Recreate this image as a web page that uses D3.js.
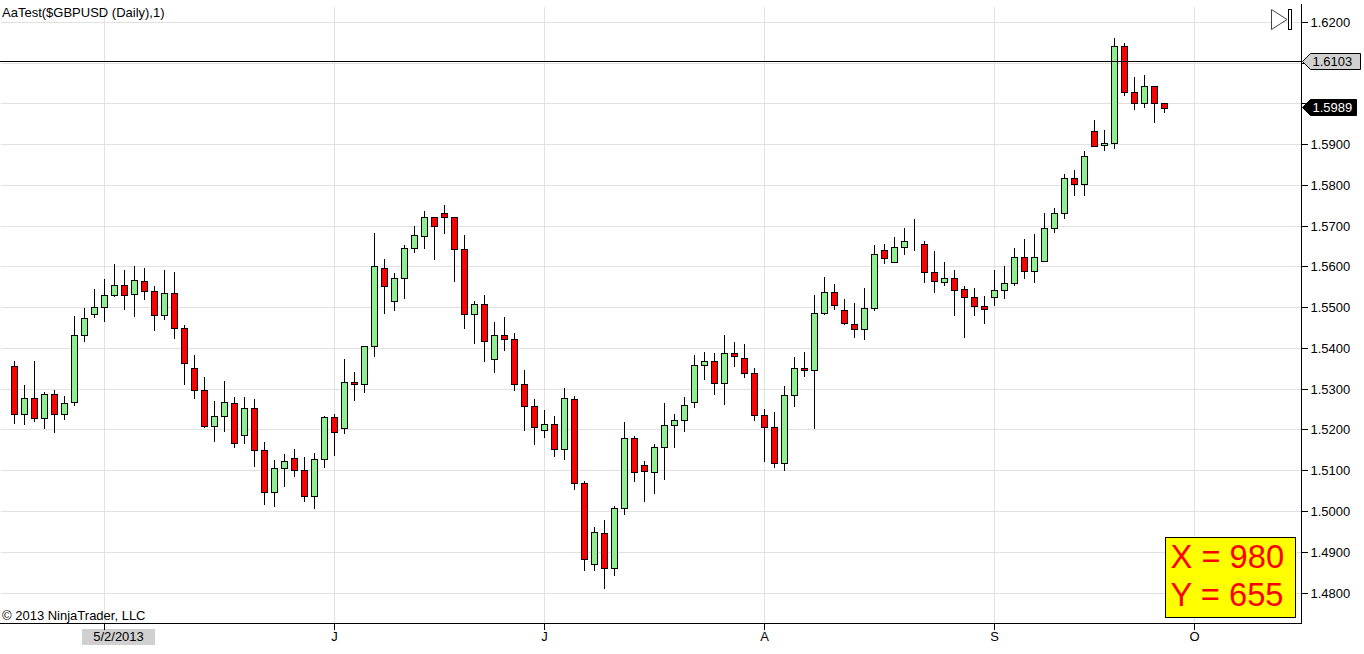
<!DOCTYPE html>
<html><head><meta charset="utf-8">
<script src="https://cdn.jsdelivr.net/npm/d3@7/dist/d3.min.js"></script>
<style>html,body{margin:0;padding:0;background:#fff}svg{display:block}text{font-family:"Liberation Sans",Arial,sans-serif}</style>
</head><body><div id="chart"></div>
<script>
const opens=[1.5356,1.5238,1.5277,1.5228,1.5287,1.5238,1.5267,1.5432,1.5484,1.5501,1.5530,1.5555,1.5533,1.5565,1.5540,1.5481,1.5535,1.5449,1.5351,1.5297,1.5208,1.5233,1.5265,1.5186,1.5252,1.5149,1.5046,1.5105,1.5130,
1.5100,1.5036,1.5127,1.5230,1.5203,1.5316,1.5311,1.5405,1.5597,1.5516,1.5572,1.5646,1.5675,1.5720,1.5730,1.5720,1.5643,1.5484,1.5508,1.5373,1.5432,1.5422,1.5311,1.5257,1.5198,1.5213,1.5152,1.5275,
1.5068,1.4869,1.4945,1.4861,1.5007,1.5179,1.5112,1.5095,1.5157,1.5211,1.5223,1.5267,1.5358,1.5368,1.5314,1.5388,1.5375,1.5339,1.5235,1.5206,1.5117,1.5284,1.5351,
1.5346,1.5486,1.5538,1.5493,1.5459,1.5447,1.5498,1.5639,1.5611,1.5648,1.5661,1.5656,1.5587,1.5562,1.5572,1.5545,1.5525,1.5503,1.5525,1.5543,1.5560,1.5624,1.5589,1.5614,1.5695,1.5730,1.5816,1.5801,1.5931,1.5897,1.5902,1.6140,1.6029,1.6000,1.6042,1.6002];
const closes=[1.5238,1.5277,1.5228,1.5287,1.5238,1.5265,1.5432,1.5474,1.5501,1.5530,1.5555,1.5530,1.5567,1.5540,1.5481,1.5535,1.5449,1.5363,1.5297,1.5208,1.5233,1.5267,1.5166,1.5252,1.5149,1.5046,1.5105,1.5122,1.5100,
1.5036,1.5127,1.5230,1.5193,1.5316,1.5311,1.5405,1.5602,1.5552,1.5572,1.5646,1.5678,1.5720,1.5698,1.5722,1.5643,1.5484,1.5508,1.5417,1.5432,1.5422,1.5311,1.5257,1.5206,1.5213,1.5152,1.5277,1.5068,
1.4881,1.4948,1.4861,1.5007,1.5179,1.5095,1.5098,1.5157,1.5211,1.5223,1.5260,1.5358,1.5368,1.5314,1.5388,1.5380,1.5339,1.5235,1.5206,1.5117,1.5284,1.5351,1.5346,
1.5486,1.5538,1.5506,1.5461,1.5447,1.5498,1.5631,1.5621,1.5648,1.5663,1.5661,1.5587,1.5565,1.5572,1.5543,1.5525,1.5503,1.5496,1.5543,1.5560,1.5624,1.5589,1.5624,1.5695,1.5732,1.5816,1.5801,1.5870,1.5895,1.5902,1.6140,1.6029,1.6002,1.6042,1.6002,1.5989];
const highs=[1.5370,1.5311,1.5368,1.5292,1.5297,1.5284,1.5479,1.5498,1.5545,1.5570,1.5607,1.5593,1.5602,1.5598,1.5552,1.5593,1.5588,1.5457,1.5383,1.5329,1.5272,1.5321,1.5282,1.5280,1.5275,1.5171,1.5127,1.5142,1.5154,
1.5133,1.5144,1.5235,1.5238,1.5375,1.5341,1.5407,1.5683,1.5619,1.5584,1.5653,1.5700,1.5737,1.5722,1.5752,1.5722,1.5678,1.5516,1.5530,1.5464,1.5476,1.5439,1.5346,1.5277,1.5248,1.5235,1.5302,1.5284,
1.5075,1.4962,1.4980,1.5014,1.5220,1.5186,1.5125,1.5166,1.5267,1.5240,1.5280,1.5383,1.5390,1.5388,1.5432,1.5415,1.5412,1.5353,1.5252,1.5243,1.5307,1.5378,1.5390,
1.5530,1.5575,1.5557,1.5520,1.5511,1.5548,1.5653,1.5656,1.5673,1.5695,1.5717,1.5663,1.5639,1.5611,1.5592,1.5552,1.5548,1.5528,1.5592,1.5602,1.5646,1.5668,1.5680,1.5732,1.5744,1.5828,1.5838,1.5885,1.5961,1.5936,1.6162,1.6150,1.6066,1.6071,1.6042,1.6002];
const lows=[1.5215,1.5212,1.5220,1.5202,1.5193,1.5225,1.5259,1.5416,1.5475,1.5466,1.5525,1.5494,1.5478,1.5519,1.5443,1.5470,1.5424,1.5311,1.5276,1.5205,1.5170,1.5195,1.5156,1.5166,1.5109,1.5016,1.5011,1.5060,1.5084,
1.5024,1.5007,1.5107,1.5136,1.5190,1.5271,1.5291,1.5380,1.5485,1.5493,1.5520,1.5633,1.5645,1.5616,1.5680,1.5564,1.5448,1.5411,1.5367,1.5340,1.5394,1.5296,1.5198,1.5163,1.5180,1.5134,1.5126,1.5052,
1.4853,1.4853,1.4809,1.4841,1.4991,1.5072,1.5023,1.5043,1.5077,1.5156,1.5195,1.5254,1.5323,1.5286,1.5261,1.5355,1.5328,1.5222,1.5121,1.5107,1.5099,1.5257,1.5330,
1.5202,1.5483,1.5495,1.5458,1.5426,1.5421,1.5493,1.5606,1.5609,1.5628,1.5638,1.5561,1.5537,1.5554,1.5480,1.5426,1.5480,1.5461,1.5505,1.5520,1.5552,1.5571,1.5561,1.5614,1.5684,1.5717,1.5774,1.5774,1.5895,1.5884,1.5889,1.6020,1.5985,1.5990,1.5953,1.5977];
const priceTicks=[1.62,1.61,1.60,1.59,1.58,1.57,1.56,1.55,1.54,1.53,1.52,1.51,1.50,1.49,1.48];
const hiddenPriceLabels=[1.61,1.60];
const dateTickIndex=[9,32,53,75,98,118];
const dateTickLabels=["5/2/2013","J","J","A","S","O"];
const titleText="AaTest($GBPUSD (Daily),1)";
const copyrightText="\u00A9 2013 NinjaTrader, LLC";
const lastPrice=1.5989, linePrice=1.6103;
const infoLines=["X = 980","Y = 655"];

const W=1364,H=654,axisX=1301.5,axisY=623.5,FS=13;
const px=v=>Math.floor(v)+0.5;
const x=d3.scaleLinear().domain([0,115]).range([14.5,1164.5]);
const y=d3.scaleLinear().domain([1.62,1.48]).range([22.3,593]);
const svg=d3.select("#chart").append("svg").attr("width",W).attr("height",H).attr("viewBox",`0 0 ${W} ${H}`);
const crisp=g=>g.attr("shape-rendering","crispEdges");
const grid=svg.append("g").call(crisp).attr("stroke","#e1e1e1").attr("stroke-width",1);
grid.selectAll("line.h").data(priceTicks).join("line").attr("class","h").attr("x1",1).attr("x2",axisX).attr("y1",d=>px(y(d))).attr("y2",d=>px(y(d)));
grid.selectAll("line.v").data(dateTickIndex).join("line").attr("class","v").attr("x1",d=>px(x(d))).attr("x2",d=>px(x(d))).attr("y1",7).attr("y2",axisY);

const candles=opens.map((o,i)=>({i,o,c:closes[i],h:highs[i],l:lows[i]}));
const cg=svg.append("g").call(crisp);
cg.selectAll("line.wick").data(candles).join("line").attr("class","wick").attr("x1",d=>px(x(d.i))).attr("x2",d=>px(x(d.i))).attr("y1",d=>y(d.h)).attr("y2",d=>y(d.l)).attr("stroke","#000");
cg.selectAll("rect.body").data(candles).join("rect").attr("class","body")
 .attr("x",d=>px(x(d.i))-3).attr("width",6)
 .attr("y",d=>px(y(Math.max(d.o,d.c))))
 .attr("height",d=>px(y(Math.min(d.o,d.c)))-px(y(Math.max(d.o,d.c))))
 .attr("fill",d=>d.c>d.o?"#90ee90":"#ff0000").attr("stroke","#000");

const yAxis=d3.axisRight(y).tickValues(priceTicks).tickFormat(d=>hiddenPriceLabels.includes(d)?"":d3.format(".4f")(d)).tickSize(6).tickPadding(3);
const gy=svg.append("g").attr("transform",`translate(${axisX},0)`).call(yAxis);
gy.select(".domain").remove();
gy.selectAll(".tick").attr("transform",d=>`translate(0,${px(y(d))})`);
gy.selectAll("line").attr("stroke","#000").attr("shape-rendering","crispEdges");
gy.selectAll("text").attr("font-size",FS).attr("font-family",'"Liberation Sans",Arial,sans-serif').attr("fill","#000");
gy.selectAll(".tick").filter(d=>hiddenPriceLabels.includes(d)).select("text").remove();

const xAxis=d3.axisBottom(x).tickValues(dateTickIndex).tickFormat((d,i)=>dateTickLabels[i]).tickSize(6).tickPadding(2);
svg.append("rect").attr("x",82).attr("y",629).attr("width",73).attr("height",16).attr("fill","#d0d0d0");
const gx=svg.append("g").attr("transform",`translate(0,${axisY})`).call(xAxis);
gx.select(".domain").remove();
gx.selectAll(".tick").attr("transform",d=>`translate(${px(x(d))},0)`);
gx.selectAll("line").attr("stroke","#000").attr("shape-rendering","crispEdges");
gx.selectAll("text").attr("font-size",FS).attr("font-family",'"Liberation Sans",Arial,sans-serif').attr("fill","#000");
gx.selectAll(".tick").filter((d,i)=>i===0).select("text").attr("x",14);

const frame=svg.append("g").call(crisp).attr("stroke","#000");
frame.append("line").attr("x1",axisX).attr("x2",axisX).attr("y1",4).attr("y2",axisY);
frame.append("line").attr("x1",0).attr("x2",axisX).attr("y1",axisY).attr("y2",axisY);
frame.append("line").attr("x1",0).attr("x2",axisX).attr("y1",px(y(linePrice))).attr("y2",px(y(linePrice)));

function priceTag(p,w,fill,txt,shift){
  const c=px(y(p))+shift, x0=axisX+1, xb=x0+8;
  svg.append("path").attr("d",`M${x0},${c}L${xb},${c-8}H${x0+w}V${c+8}H${xb}Z`).attr("fill",fill).attr("stroke","#000");
  svg.append("text").attr("x",x0+10).attr("y",c+4.5).attr("font-size",FS).attr("fill",txt).text(d3.format(".4f")(p));
}
priceTag(linePrice,58,"#d0d0d0","#000",0);
priceTag(lastPrice,54,"#000","#fff",-1);

svg.append("text").attr("x",2).attr("y",16.5).attr("font-size",FS).attr("fill","#000").text(titleText);
svg.append("text").attr("x",2).attr("y",620).attr("font-size",FS).attr("fill","#000").text(copyrightText);

svg.append("path").attr("d","M1271.5,9.5L1287,19.5L1271.5,29.5Z").attr("fill","#fff").attr("stroke","#444");
svg.append("rect").attr("x",1288.5).attr("y",9.5).attr("width",3).attr("height",20).attr("fill","#fff").attr("stroke","#000").attr("shape-rendering","crispEdges");

svg.append("rect").attr("x",1165.5).attr("y",537.5).attr("width",130).attr("height",80).attr("fill","#ffff00").attr("stroke","#000").attr("shape-rendering","crispEdges");
svg.selectAll("text.info").data(infoLines).join("text").attr("class","info").attr("x",1170.5).attr("y",(d,i)=>567.5+38.5*i).attr("font-size",32.7).attr("fill","#ff0000").text(d=>d);
</script></body></html>
